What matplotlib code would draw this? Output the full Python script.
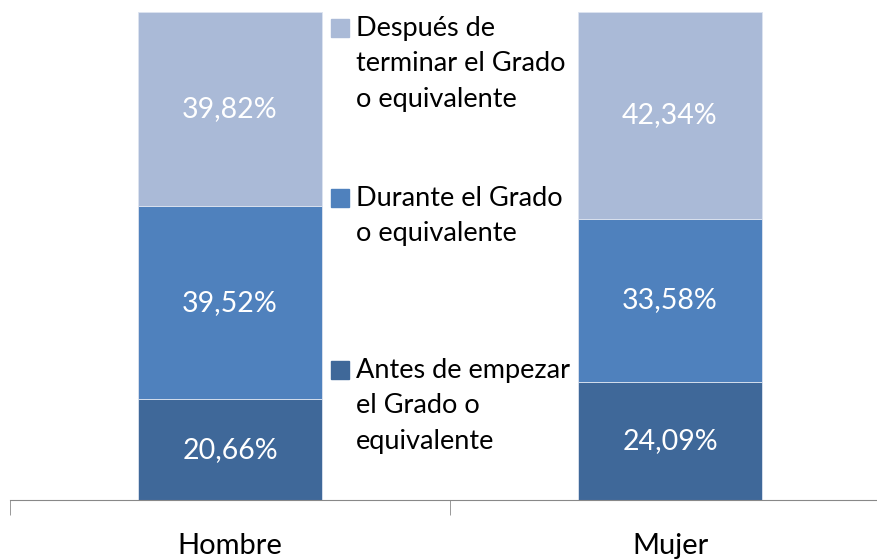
import numpy as np
import matplotlib.pyplot as plt

categories = ['Hombre', 'Mujer']
antes = [20.66, 24.09]
durante = [39.52, 33.58]
despues = [39.82, 42.34]

series_names = ['Antes de empezar\nel Grado o\nequivalente',
                'Durante el Grado\no equivalente',
                'Después de\nterminar el Grado\no equivalente']
colors = ['#3F6899', '#4F81BD', '#AABAD7']

plt.rcParams['font.family'] = ['Lato', 'DejaVu Sans']

fig = plt.figure(figsize=(8.77, 5.60), dpi=100)
ax = fig.add_axes([10 / 877, 60 / 560, 880 / 877, 488 / 560])

x = np.arange(len(categories))
bottom = np.zeros(len(categories))
for vals, col in zip([antes, durante, despues], colors):
    vals = np.array(vals)
    ax.bar(x, vals, width=0.42, bottom=bottom, color=col,
           edgecolor='#DDE4F0', linewidth=0.6)
    for xi, b, v in zip(x, bottom, vals):
        ax.text(xi, b + v / 2, f'{v:.2f}%'.replace('.', ','), ha='center',
                va='center', color='white', fontsize=20.5)
    bottom += vals

ax.set_xlim(-0.5, 1.5)
ax.set_ylim(0, 100)
ax.set_yticks([])
for s in ['top', 'right', 'left']:
    ax.spines[s].set_visible(False)
ax.spines['bottom'].set_color('#888888')
ax.set_xticks([-0.5, 0.5, 1.5], minor=True)
ax.tick_params(axis='x', which='minor', length=11, color='#888888')
ax.tick_params(axis='x', which='major', length=0, pad=24)
ax.set_xticks(x)
ax.set_xticklabels(categories, fontsize=21)

# legend drawn as patches + text in figure pixel coords
legend_y = [28, 198, 370]  # top line centre, pixels from top
for name, col, ly in zip(series_names[::-1], colors[::-1], legend_y):
    fig.patches.append(plt.Rectangle((331 / 877, 1 - (ly + 9) / 560), 18 / 877, 18 / 560,
                                     transform=fig.transFigure, color=col))
    fig.text(356 / 877, 1 - (ly - 12) / 560, name, ha='left', va='top',
             fontsize=19.5, linespacing=1.52)

fig.savefig('out.png', dpi=100)
